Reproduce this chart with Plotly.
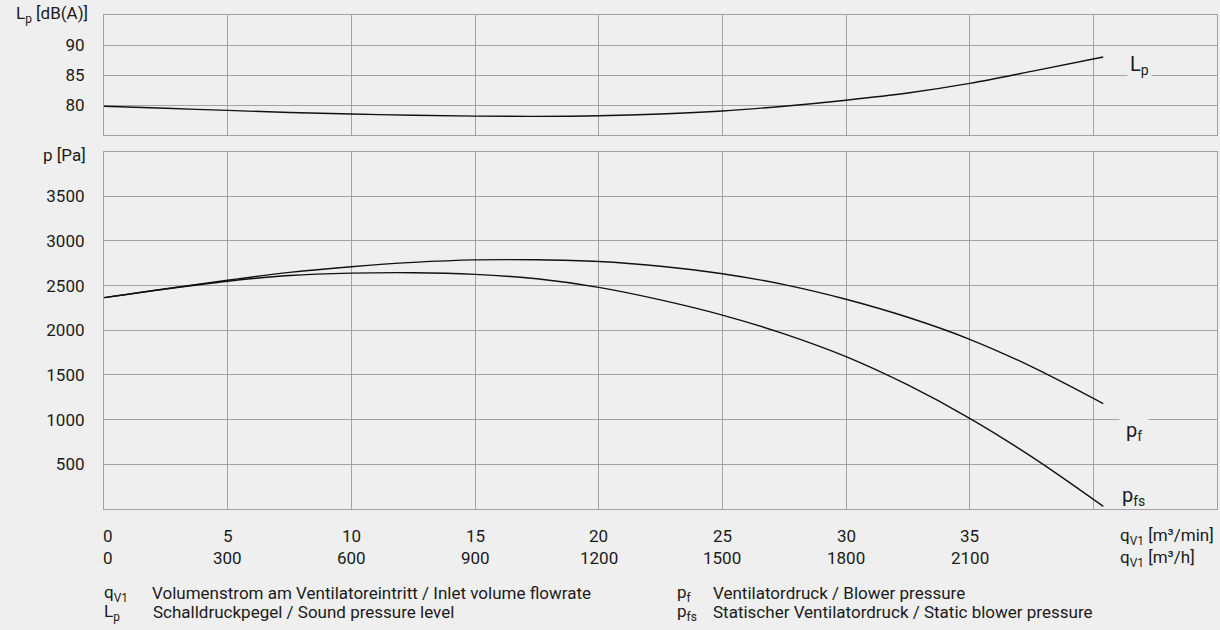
import plotly.graph_objects as go
from plotly.subplots import make_subplots

# ---- data ----
q_min = [0, 2.5, 5, 7.5, 10, 12.5, 15, 17.5, 20, 22.5, 25, 27.5, 30, 32.5, 35, 37.5, 40.4]
lp = [79.8, 79.45, 79.1, 78.75, 78.5, 78.3, 78.15, 78.1, 78.2, 78.5, 79.0, 79.8, 80.8, 82.0, 83.6, 85.6, 88.0]
pf = [2365, 2465, 2560, 2647, 2711, 2759, 2787, 2788, 2769, 2716, 2632, 2511, 2347, 2145, 1899, 1593, 1179]
pfs = [2365, 2462, 2549, 2612, 2639, 2644, 2625, 2576, 2480, 2340, 2170, 1960, 1705, 1388, 1015, 586, 30]

x_ticks = [0, 5, 10, 15, 20, 25, 30, 35]
x_tick_labels_min = ["0", "5", "10", "15", "20", "25", "30", "35"]
x_tick_labels_h = ["0", "300", "600", "900", "1200", "1500", "1800", "2100"]
x_grid = [0, 5, 10, 15, 20, 25, 30, 35, 40]
lp_ticks = [80, 85, 90]
p_ticks = [500, 1000, 1500, 2000, 2500, 3000, 3500]

BG = "#efefef"
GRID = "#a2a2a2"
LINE = "#111111"
FONT = "Roboto"
TXT = "#1a1a1a"
FS = 17

fig = make_subplots(rows=2, cols=1, shared_xaxes=False, vertical_spacing=0.0)

for xs, ys, r in [(q_min, lp, 1), (q_min, pf, 2), (q_min, pfs, 2)]:
    fig.add_trace(go.Scatter(x=xs, y=ys, mode="lines",
                             line=dict(color=LINE, width=1.4, shape="spline", smoothing=1.0),
                             hoverinfo="skip", showlegend=False), row=r, col=1)

W, H = 1220, 630
ml, mr, mt, mb = 104, 3, 15, 121
pw = W - ml - mr
ph = H - mt - mb
top_dom = [(509 - 135) / ph, 1.0]
bot_dom = [0.0, (509 - 151.5) / ph]

axis_common = dict(showgrid=True, gridcolor=GRID, gridwidth=1.2, showline=True, linecolor=GRID,
                   linewidth=1.2, mirror=True, zeroline=False)

fig.update_xaxes(range=[0, 45], tickvals=x_grid, showticklabels=False, **axis_common)
fig.update_layout(
    xaxis=dict(domain=[0, 1]),
    xaxis2=dict(domain=[0, 1]),
    yaxis=dict(domain=top_dom, range=[75, 95], tickvals=lp_ticks, ticks="outside", ticklen=0,
               ticklabelstandoff=15, tickfont=dict(family=FONT, size=FS, color=TXT), **axis_common),
    yaxis2=dict(domain=bot_dom, range=[0, 4000], tickvals=p_ticks, ticks="outside", ticklen=0,
                ticklabelstandoff=15, tickfont=dict(family=FONT, size=FS, color=TXT), **axis_common),
)

ann = []
# x tick labels (two rows)
for v, t1, t2 in zip(x_ticks, x_tick_labels_min, x_tick_labels_h):
    anchor = "left" if v == 0 else "center"
    xs_ = -3 if v == 0 else 0
    ann.append(dict(x=v, xref="x2", y=0, yref="paper", text=t1, showarrow=False, xanchor=anchor,
                    yanchor="middle", yshift=-27, xshift=xs_, font=dict(family=FONT, size=FS, color=TXT)))
    ann.append(dict(x=v, xref="x2", y=0, yref="paper", text=t2, showarrow=False, xanchor=anchor,
                    yanchor="middle", yshift=-49, xshift=xs_, font=dict(family=FONT, size=FS, color=TXT)))
unit_x = (1118 - ml) / pw
ann.append(dict(x=unit_x, xref="paper", y=0, yref="paper", text="q<sub>V1</sub> [m³/min]", showarrow=False,
                xanchor="left", yanchor="middle", yshift=-27, font=dict(family=FONT, size=FS, color=TXT)))
ann.append(dict(x=unit_x, xref="paper", y=0, yref="paper", text="q<sub>V1</sub> [m³/h]", showarrow=False,
                xanchor="left", yanchor="middle", yshift=-49, font=dict(family=FONT, size=FS, color=TXT)))

# axis titles
ann.append(dict(x=0, xref="paper", y=1, yref="paper", text="L<sub>p</sub> [dB(A)]", showarrow=False,
                xanchor="right", yanchor="middle", xshift=-14, yshift=1, font=dict(family=FONT, size=FS, color=TXT)))
ann.append(dict(x=0, xref="paper", y=bot_dom[1], yref="paper", text="p [Pa]", showarrow=False,
                xanchor="right", yanchor="middle", xshift=-16, yshift=-4, font=dict(family=FONT, size=FS, color=TXT)))

# curve labels
ann.append(dict(x=q_min[-1], xref="x", y=lp[-1], yref="y", text="L<sub>p</sub>", showarrow=False,
                xanchor="center", yanchor="middle", xshift=36, yshift=-8, bgcolor=BG, borderpad=2,
                font=dict(family=FONT, size=20, color=TXT)))
ann.append(dict(x=q_min[-1], xref="x2", y=pf[-1], yref="y2", text="p<sub>f</sub>", showarrow=False,
                xanchor="center", yanchor="middle", xshift=31, yshift=-27, bgcolor=BG, borderpad=6,
                font=dict(family=FONT, size=20, color=TXT)))
ann.append(dict(x=q_min[-1], xref="x2", y=pfs[-1], yref="y2", text="p<sub>fs</sub>", showarrow=False,
                xanchor="center", yanchor="middle", xshift=30, yshift=10,
                font=dict(family=FONT, size=20, color=TXT)))

# bottom legend
leg = [
    (104, -84, "q<sub>V1</sub>"), (152, -84, "Volumenstrom am Ventilatoreintritt / Inlet volume flowrate"),
    (104, -103, "L<sub>p</sub>"), (153, -103, "Schalldruckpegel / Sound pressure level"),
    (677, -84, "p<sub>f</sub>"), (713, -84, "Ventilatordruck / Blower pressure"),
    (677, -103, "p<sub>fs</sub>"), (713, -103, "Statischer Ventilatordruck / Static blower pressure"),
]
for px, sh, t in leg:
    ann.append(dict(x=(px - ml) / pw, xref="paper", y=0, yref="paper", text=t, showarrow=False, xanchor="left",
                    yanchor="middle", yshift=sh, xshift=-2, font=dict(family=FONT, size=FS, color=TXT)))

fig.update_layout(
    width=W, height=H, margin=dict(l=ml, r=mr, t=mt, b=mb),
    paper_bgcolor=BG, plot_bgcolor=BG, annotations=ann, showlegend=False,
    font=dict(family=FONT, size=FS, color=TXT),
)

fig.write_html("out.html", config={"displayModeBar": False})
